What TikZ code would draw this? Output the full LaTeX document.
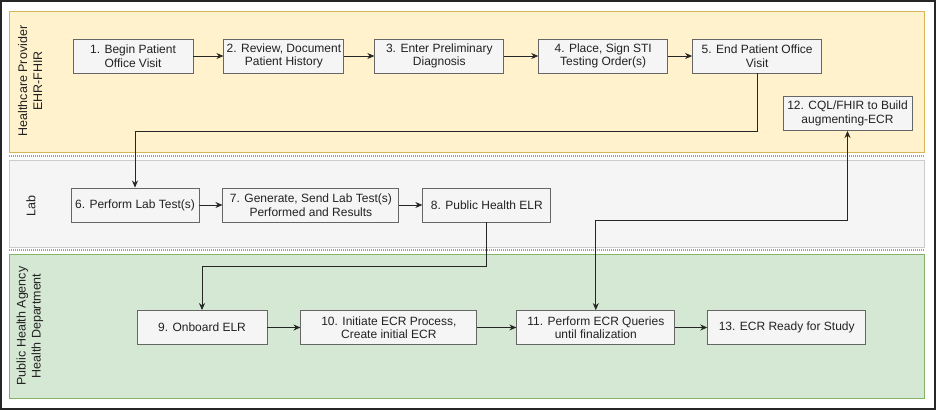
\documentclass[tikz,border=0pt]{standalone}
\usepackage{fontspec}
\setmainfont{Liberation Sans}
\usepackage{xcolor}
\definecolor{boxfill}{HTML}{F5F5F5}
\definecolor{boxline}{HTML}{666666}
\definecolor{boxtext}{HTML}{222222}
\definecolor{provfill}{HTML}{FFF2CC}
\definecolor{provline}{HTML}{D6B656}
\definecolor{labfill}{HTML}{F5F5F5}
\definecolor{labline}{HTML}{CCCCCC}
\definecolor{phafill}{HTML}{D5E8D4}
\definecolor{phaline}{HTML}{82B366}
\usepackage{tikz}
\usetikzlibrary{
  arrows.meta,
  positioning
}

\begin{document}
\begin{tikzpicture}[
  x=1pt, y=-1pt,
  node distance=30pt,
  stepbox/.style={rectangle, draw=boxline, fill=boxfill, line width=0.9pt, minimum height=34pt, inner sep=1pt, align=center, text=boxtext, font=\fontsize{12}{13.5}\selectfont},
  lanelabel/.style={rotate=90, align=center, text=boxtext, font=\fontsize{12.5}{15}\selectfont},
  sep/.style={gray!75, line width=2pt, dash pattern=on 1pt off 1pt},
  arr/.style={-{Stealth[length=7pt, width=6pt]}, line width=0.8pt, black!85},
  darr/.style={{Stealth[length=7pt, width=6pt]}-{Stealth[length=7pt, width=6pt]}, line width=0.8pt, black!85},
]
\useasboundingbox (0,0) rectangle (936,410);

% Swimlanes
\draw[provline, fill=provfill] (9,11) rectangle (924,152);
\draw[labline, fill=labfill] (9,160) rectangle (924,247);
\draw[phaline, fill=phafill] (9,254) rectangle (924,398);
\draw[sep] (9,156) -- (924,156);
\draw[sep] (9,250) -- (924,250);
\node[lanelabel] (provider) at (30,81) {Healthcare Provider\\EHR-FHIR};
\node[lanelabel] (lab) at (31,206) {Lab};
\node[lanelabel] (agency) at (30,326) {Public Health Agency\\Health Department};

% Healthcare provider
\node[stepbox, minimum width=120pt] (begin) at (133,56) {1. Begin Patient\\Office Visit};
\node[stepbox, minimum width=120pt, right=30pt of begin] (review) {2. Review, Document\\Patient History};
\node[stepbox, minimum width=129pt, right=30pt of review] (diagnosis) {3. Enter Preliminary\\Diagnosis};
\node[stepbox, minimum width=129pt, right=34pt of diagnosis] (order) {4. Place, Sign STI\\Testing Order(s)};
\node[stepbox, minimum width=129pt, right=24pt of order] (endvisit) {5. End Patient Office\\Visit};
\node[stepbox, minimum width=129pt] (cql) at (847.5,113.5) {12. CQL/FHIR to Build\\augmenting-ECR};

% Lab
\node[stepbox, minimum width=128pt] (labtest) at (135,205) {6. Perform Lab Test(s)};
\node[stepbox, minimum width=176pt, right=23pt of labtest] (results) {7. Generate, Send Lab Test(s)\\Performed and Results};
\node[stepbox, minimum width=128pt, right=23pt of results] (elr) {8. Public Health ELR};

% Public health agency
\node[stepbox, minimum width=130pt] (onboard) at (202,327.5) {9. Onboard ELR};
\node[stepbox, minimum width=176pt, right=33pt of onboard] (initiate) {10. Initiate ECR Process,\\Create initial ECR};
\node[stepbox, minimum width=158pt, right=39pt of initiate] (queries) {11. Perform ECR Queries\\until finalization};
\node[stepbox, minimum width=158pt, right=32pt of queries] (ready) {13. ECR Ready for Study};

% Flow
\draw[arr] (begin) -- (review);
\draw[arr] (review) -- (diagnosis);
\draw[arr] (diagnosis) -- (order);
\draw[arr] (order) -- (endvisit);
\draw[arr] (endvisit.south) -- ++(0,58) -| (labtest.north);
\draw[arr] (labtest) -- (results);
\draw[arr] (results) -- (elr);
\draw[arr] (elr.south) -- ++(0,44) -| (onboard.north);
\draw[arr] (onboard) -- (initiate);
\draw[arr] (initiate) -- (queries);
\draw[arr] (queries) -- (ready);
\draw[darr] (queries.north) -- ++(0,-90) -| (cql.south);

% Frame
\draw[line width=2pt, black!85] (1,1) rectangle (935,409);
\end{tikzpicture}
\end{document}
